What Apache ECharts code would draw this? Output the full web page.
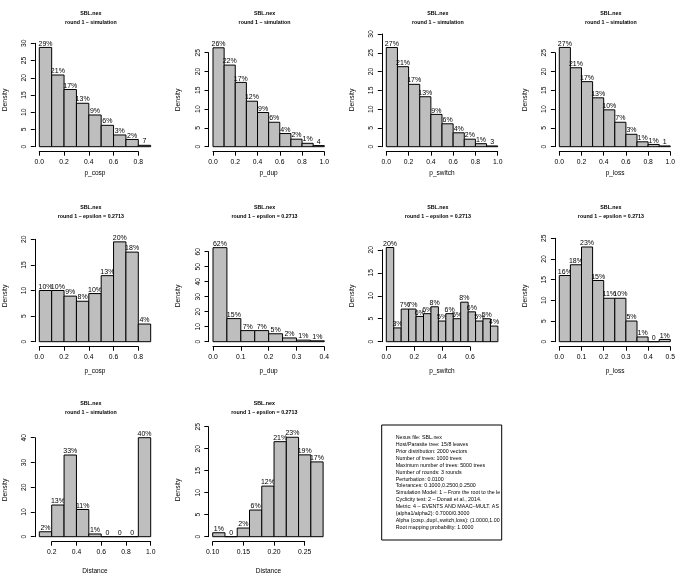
<!DOCTYPE html>
<html><head><meta charset="utf-8">
<script src="https://cdn.jsdelivr.net/npm/echarts@6/dist/echarts.min.js"></script>
<style>html,body{margin:0;padding:0;background:#fff}#c{width:686px;height:585px}</style>
</head><body><div id="c"></div>
<script>
// ---------------- DATA ----------------
const breaks01to09 = [0.0,0.1,0.2,0.3,0.4,0.5,0.6,0.7,0.8,0.9];
const breaks01to10 = [0.0,0.1,0.2,0.3,0.4,0.5,0.6,0.7,0.8,0.9,1.0];

const cospSimDensity = [28.8,20.8,16.6,12.6,9.2,6.2,3.4,2.1,0.4];
const cospSimLabels  = ['29%','21%','17%','13%','9%','6%','3%','2%','7'];
const dupSimDensity  = [26.3,21.7,17.1,12.1,9.1,6.5,3.5,2.0,0.9,0.3];
const dupSimLabels   = ['26%','22%','17%','12%','9%','6%','4%','2%','1%','4'];
const switchSimDensity = [26.4,21.3,16.6,13.3,8.6,6.1,3.7,2.0,0.8,0.2];
const switchSimLabels  = ['27%','21%','17%','13%','9%','6%','4%','2%','1%','3'];
const lossSimDensity = [26.4,21.0,17.3,13.0,9.8,6.5,3.3,1.3,0.6,0.2];
const lossSimLabels  = ['27%','21%','17%','13%','10%','7%','3%','1%','1%','1'];

const cospEpsDensity = [10.0,10.0,8.9,7.9,9.4,12.9,19.5,17.5,3.45];
const cospEpsLabels  = ['10%','10%','9%','8%','10%','13%','20%','18%','4%'];
const dupEpsBreaks   = [0.0,0.05,0.10,0.15,0.20,0.25,0.30,0.35,0.40];
const dupEpsDensity  = [62.7,15.4,7.4,7.4,5.3,2.5,1.05,0.6];
const dupEpsLabels   = ['62%','15%','7%','7%','5%','2%','1%','1%'];
const switchEpsBreaks  = [0.0,0.0533,0.1067,0.16,0.2133,0.2667,0.32,0.3733,0.4267,0.48,0.5333,0.5867,0.64,0.6933,0.7467,0.80];
const switchEpsDensity = [20.5,3.0,7.1,7.1,5.5,6.1,7.6,4.5,6.1,5.0,8.6,6.5,4.5,5.0,3.4];
const switchEpsLabels  = ['20%','3%','7%','7%','6%','6%','8%','5%','6%','5%','8%','6%','5%','5%','4%'];
const lossEpsBreaks  = [0.0,0.05,0.10,0.15,0.20,0.25,0.30,0.35,0.40,0.45,0.50];
const lossEpsDensity = [16.0,18.6,22.9,14.8,10.5,10.5,5.0,1.15,0,0.55];
const lossEpsLabels  = ['16%','18%','23%','15%','11%','10%','5%','1%','0','1%'];

const distSimBreaks  = [0.1,0.2,0.3,0.4,0.5,0.6,0.7,0.8,0.9,1.0];
const distSimDensity = [2.0,12.8,33.0,11.0,1.1,0,0,0,40.0];
const distSimLabels  = ['2%','13%','33%','11%','1%','0','0','0','40%'];
const distEpsBreaks  = [0.10,0.12,0.14,0.16,0.18,0.20,0.22,0.24,0.26,0.28];
const distEpsDensity = [0.9,0,1.97,6.06,11.5,21.6,22.6,18.6,17.0];
const distEpsLabels  = ['1%','0','2%','6%','12%','21%','23%','19%','17%'];

// tick labels
const xTicks0to08 = [0.0,0.2,0.4,0.6,0.8];
const xTicks0to10 = [0.0,0.2,0.4,0.6,0.8,1.0];
const xTicks0to04 = [0.0,0.1,0.2,0.3,0.4];
const xTicks0to06 = [0.0,0.2,0.4,0.6];
const xTicks0to05 = [0.0,0.1,0.2,0.3,0.4,0.5];
const xTicks02to10 = [0.2,0.4,0.6,0.8,1.0];
const xTicks010to025 = [0.10,0.15,0.20,0.25];
const yTicks20 = [0,5,10,15,20];
const yTicks25 = [0,5,10,15,20,25];
const yTicks30 = [0,5,10,15,20,25,30];
const yTicks40 = [0,10,20,30,40];
const yTicks60 = [0,10,20,30,40,50,60];

const titleMain = 'SBL.nex';
const subSim = 'round 1 \u2013 simulation';
const subEps = 'round 1 \u2013 epsilon = 0.2713';
const yName = 'Density';

const infoLines = [
  'Nexus file: SBL.nex',
  'Host/Parasite tree: 15/8 leaves',
  'Prior distribution: 2000 vectors',
  'Number of trees: 1000 trees',
  'Maximum number of trees: 5000 trees',
  'Number of rounds: 3 rounds',
  'Perturbation: 0.0100',
  'Tolerances: 0.1000,0.2500,0.2500',
  'Simulation Model: 1 \u2013 From the root to the leaves',
  'Cyclicity test: 2 \u2013 Donati et al., 2014.',
  'Metric: 4 \u2013 EVENTS AND MAAC\u2013MULT. ASYMMETRIC',
  '(alpha1/alpha2): 0.7000/0.3000',
  'Alpha (cosp.,dupl.,switch,loss): (1.0000,1.0000,1.0000,1.0000)',
  'Root mapping probability: 1.0000'
];

const panels = [
  {breaks:breaks01to09, dens:cospSimDensity, labels:cospSimLabels, xTicks:xTicks0to08, yTicks:yTicks30, xName:'p_cosp', sub:subSim, dec:1},
  {breaks:breaks01to10, dens:dupSimDensity, labels:dupSimLabels, xTicks:xTicks0to10, yTicks:yTicks25, xName:'p_dup', sub:subSim, dec:1},
  {breaks:breaks01to10, dens:switchSimDensity, labels:switchSimLabels, xTicks:xTicks0to10, yTicks:yTicks30, xName:'p_switch', sub:subSim, dec:1},
  {breaks:breaks01to10, dens:lossSimDensity, labels:lossSimLabels, xTicks:xTicks0to10, yTicks:yTicks25, xName:'p_loss', sub:subSim, dec:1},
  {breaks:breaks01to09, dens:cospEpsDensity, labels:cospEpsLabels, xTicks:xTicks0to08, yTicks:yTicks20, xName:'p_cosp', sub:subEps, dec:1},
  {breaks:dupEpsBreaks, dens:dupEpsDensity, labels:dupEpsLabels, xTicks:xTicks0to04, yTicks:yTicks60, xName:'p_dup', sub:subEps, dec:1},
  {breaks:switchEpsBreaks, dens:switchEpsDensity, labels:switchEpsLabels, xTicks:xTicks0to06, yTicks:yTicks20, xName:'p_switch', sub:subEps, dec:1},
  {breaks:lossEpsBreaks, dens:lossEpsDensity, labels:lossEpsLabels, xTicks:xTicks0to05, yTicks:yTicks25, xName:'p_loss', sub:subEps, dec:1},
  {breaks:distSimBreaks, dens:distSimDensity, labels:distSimLabels, xTicks:xTicks02to10, yTicks:yTicks40, xName:'Distance', sub:subSim, dec:1},
  {breaks:distEpsBreaks, dens:distEpsDensity, labels:distEpsLabels, xTicks:xTicks010to025, yTicks:yTicks25, xName:'Distance', sub:subEps, dec:2}
];

// ---------------- LAYOUT (pixels) ----------------
const ROW_H = 195, Y0 = 146.7, AXIS_X = 151.7, PLOT_T = 30, PLOT_W = 120.3;
const TITLE_Y = [[13.3, 22.3], [207.2, 216.7], [403.3, 412.3]];
const XNAME_Y = [173.3, 371.7, 571.7];
const YNAME_Y = [100, 296, 490];
const layout = [
  {row:0, x0:39.3,  x1:138.3, yTop:43.3, axisY:34.8},
  {row:0, x0:213.0, x1:324.3, yTop:52.7, axisY:208.5},
  {row:0, x0:386.3, x1:497.7, yTop:34.0, axisY:381.8},
  {row:0, x0:559.3, x1:670.3, yTop:52.7, axisY:554.9},
  {row:1, x0:39.3,  x1:138.3, yTop:44.3, axisY:34.8},
  {row:1, x0:213.0, x1:324.3, yTop:56.7, axisY:208.5},
  {row:1, x0:386.3, x1:470.0, yTop:54.8, axisY:381.8},
  {row:1, x0:559.3, x1:670.3, yTop:43.3, axisY:554.9},
  {row:2, x0:51.7,  x1:150.7, yTop:47.7, axisY:34.8},
  {row:2, x0:212.7, x1:304.7, yTop:36.7, axisY:208.3}
];
const FONT = 'Liberation Sans, Arial, Helvetica, sans-serif';
const BAR_FILL = '#BEBEBE';

const grid = [], xAxis = [], yAxis = [], series = [], graphic = [];
const last = a => a[a.length-1];

panels.forEach((P, i) => {
  const L = layout[i], off = L.row * ROW_H;
  const sx = (L.x1 - L.x0) / (last(P.xTicks) - P.xTicks[0]);
  const sy = (Y0 - L.yTop) / last(P.yTicks);
  const gi = grid.length;
  grid.push({left:L.axisY, top:off+PLOT_T, width:PLOT_W, height:AXIS_X-PLOT_T});
  const xmin = P.xTicks[0] + (L.axisY - L.x0)/sx;
  xAxis.push({gridIndex:gi, type:'value', show:false, min:xmin, max:xmin + PLOT_W/sx});
  yAxis.push({gridIndex:gi, type:'value', show:false, min:-(AXIS_X-Y0)/sy, max:(Y0-PLOT_T)/sy});
  const labs = P.labels;
  series.push({
    type:'custom', xAxisIndex:gi, yAxisIndex:gi, clip:false,
    data:P.dens.map((d,k)=>[P.breaks[k], P.breaks[k+1], d]),
    renderItem:function(params, api){
      const a = api.coord([api.value(0), 0]);
      const b = api.coord([api.value(1), api.value(2)]);
      return {type:'group', children:[
        {type:'rect', shape:{x:a[0], y:b[1], width:b[0]-a[0], height:a[1]-b[1]},
         style:{fill:BAR_FILL, stroke:'#000', lineWidth:1}},
        {type:'text', style:{text:labs[params.dataIndex], x:(a[0]+b[0])/2, y:b[1]-0.3,
         align:'center', verticalAlign:'bottom', font:'7px '+FONT, fill:'#000'}}
      ]};
    }
  });
  const ga = grid.length;
  grid.push({left:L.x0, top:off+L.yTop, width:L.x1-L.x0, height:Y0-L.yTop});
  const xstep = +(P.xTicks[1]-P.xTicks[0]).toFixed(6);
  const ystep = P.yTicks[1]-P.yTicks[0];
  const axCommon = {
    axisLine:{show:true, onZero:false, lineStyle:{color:'#000', width:1}},
    axisTick:{show:true, length:4, lineStyle:{color:'#000', width:1}},
    splitLine:{show:false}
  };
  xAxis.push(Object.assign({gridIndex:ga, type:'value', position:'bottom', min:P.xTicks[0], max:last(P.xTicks), interval:xstep,
    offset:AXIS_X-Y0,
    axisLabel:{show:true, interval:0, margin:7, fontSize:6.8, fontFamily:FONT, color:'#000', formatter:v=>v.toFixed(P.dec), showMinLabel:true, showMaxLabel:true}
  }, axCommon));
  yAxis.push(Object.assign({gridIndex:ga, type:'value', position:'left', min:0, max:last(P.yTicks), interval:ystep,
    offset:L.x0-L.axisY,
    axisLabel:{show:true, interval:0, rotate:90, margin:7, fontSize:6.8, fontFamily:FONT, color:'#000', showMinLabel:true, showMaxLabel:true}
  }, axCommon));
  const cx = L.axisY + PLOT_W/2;
  const ty = TITLE_Y[L.row];
  graphic.push({type:'text', x:L.axisY+56, y:ty[0], style:{text:titleMain, align:'center', verticalAlign:'middle', font:'bold 5.3px '+FONT, fill:'#000'}});
  graphic.push({type:'text', x:L.axisY+56, y:ty[1], style:{text:P.sub, align:'center', verticalAlign:'middle', font:'bold 5.3px '+FONT, fill:'#000'}});
  graphic.push({type:'text', x:cx, y:XNAME_Y[L.row], style:{text:P.xName, align:'center', verticalAlign:'middle', font:'6.5px '+FONT, fill:'#000'}});
  graphic.push({type:'text', x:L.axisY-30, y:YNAME_Y[L.row], rotation:Math.PI/2, style:{text:yName, align:'center', verticalAlign:'middle', font:'6.8px '+FONT, fill:'#000'}});
});

// info box
const BOX = {x:381.7, y:425, w:120, h:115};
graphic.push({type:'rect', shape:{x:BOX.x, y:BOX.y, width:BOX.w, height:BOX.h}, style:{fill:'#fff', stroke:'#000', lineWidth:1}});
infoLines.forEach((t, k) => {
  graphic.push({type:'text', x:395.7, y:438 + k*6.85, style:{text:t, width:BOX.x+BOX.w-395.7, overflow:'truncate', ellipsis:'',
    align:'left', verticalAlign:'middle', font:'5.3px '+FONT, fill:'#000'}});
});

const chart = echarts.init(document.getElementById('c'), null, {renderer:'canvas', width:686, height:585});
chart.setOption({animation:false, backgroundColor:'#fff', grid, xAxis, yAxis, series, graphic});
</script>
</body></html>
